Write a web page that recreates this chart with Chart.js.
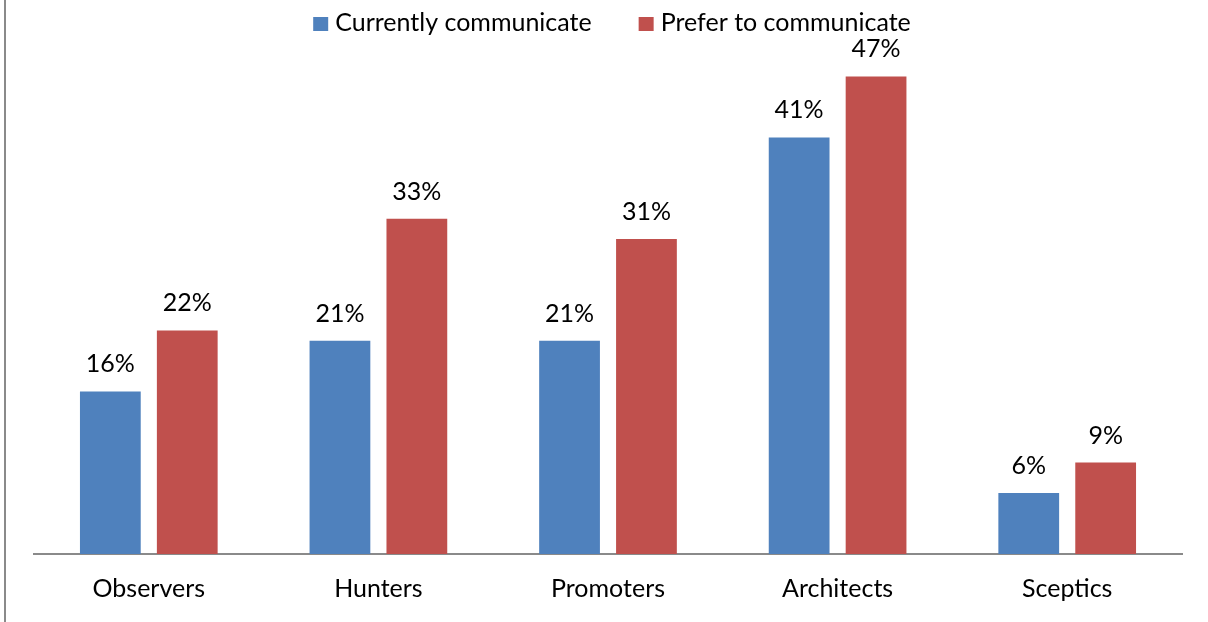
<!DOCTYPE html>
<html>
<head>
<meta charset="utf-8">
<title>Communication by segment</title>
<script src="https://cdn.jsdelivr.net/npm/chart.js@4/dist/chart.umd.min.js"></script>
<style>
  html, body { margin: 0; padding: 0; background: #ffffff; }
  #wrap { width: 1208px; height: 622px; position: relative; }
</style>
</head>
<body>
<div id="wrap"><canvas id="chart" width="1208" height="622"></canvas></div>
<script>
// Segments along the x axis
const categories = ['Observers', 'Hunters', 'Promoters', 'Architects', 'Sceptics'];
// Share of each segment, in percent
const currentlyCommunicate = [16, 21, 21, 41, 6];
const preferToCommunicate = [22, 33, 31, 47, 9];
const seriesNames = ['Currently communicate', 'Prefer to communicate'];

const FONT = 'Lato, "Open Sans", "Liberation Sans", sans-serif';
const FONT_SIZE = 25;
const BLUE = '#4F81BD';
const RED = '#C0504D';

// White page with the thin gray frame line on the left edge
const framePlugin = {
  id: 'frame',
  beforeDraw(chart) {
    const ctx = chart.ctx;
    ctx.save();
    ctx.fillStyle = '#ffffff';
    ctx.fillRect(0, 0, chart.width, chart.height);
    ctx.fillStyle = '#8a8a8a';
    ctx.fillRect(4, 0, 2, chart.height);
    ctx.restore();
  }
};

// Percentage labels above every bar
const valueLabels = {
  id: 'valueLabels',
  afterDatasetsDraw(chart) {
    const ctx = chart.ctx;
    ctx.save();
    ctx.font = FONT_SIZE + 'px ' + FONT;
    ctx.fillStyle = '#000000';
    ctx.textAlign = 'center';
    ctx.textBaseline = 'alphabetic';
    chart.data.datasets.forEach((ds, di) => {
      chart.getDatasetMeta(di).data.forEach((bar, i) => {
        ctx.fillText(ds.data[i] + '%', bar.x, bar.y - 19);
      });
    });
    ctx.restore();
  }
};

// Legend row above the plot: square swatch followed by the series name
const legendRow = {
  id: 'legendRow',
  afterDraw(chart) {
    const ctx = chart.ctx;
    const box = 15, gap = 7, spacing = 47;
    ctx.save();
    ctx.font = FONT_SIZE + 'px ' + FONT;
    ctx.textBaseline = 'alphabetic';
    ctx.textAlign = 'left';
    const items = chart.data.datasets.map(ds => ({
      text: ds.label, color: ds.backgroundColor, w: ctx.measureText(ds.label).width
    }));
    const total = items.reduce((s, it) => s + box + gap + it.w, 0) + spacing * (items.length - 1);
    const area = chart.chartArea;
    let x = (area.left + area.right) / 2 + 4 - total / 2;
    items.forEach(it => {
      ctx.fillStyle = it.color;
      ctx.fillRect(x, 17, box, 14);
      ctx.fillStyle = '#000000';
      ctx.fillText(it.text, x + box + gap, 31);
      x += box + gap + it.w + spacing;
    });
    ctx.restore();
  }
};

new Chart(document.getElementById('chart'), {
  type: 'bar',
  data: {
    labels: categories,
    datasets: [
      { label: seriesNames[0], data: currentlyCommunicate, backgroundColor: BLUE,
        categoryPercentage: 0.67, barPercentage: 0.79 },
      { label: seriesNames[1], data: preferToCommunicate, backgroundColor: RED,
        categoryPercentage: 0.67, barPercentage: 0.79 }
    ]
  },
  options: {
    responsive: false,
    animation: false,
    devicePixelRatio: 1,
    layout: { padding: { left: 34, right: 26, top: 46, bottom: 0 } },
    plugins: {
      legend: { display: false },
      tooltip: { enabled: false }
    },
    scales: {
      x: {
        grid: { display: false, drawTicks: false },
        border: { display: true, color: '#8a8a8a', width: 2 },
        ticks: { color: '#000000', padding: 20, font: { family: FONT, size: FONT_SIZE } },
        afterFit(scale) { scale.height = 68; }
      },
      y: {
        display: false,
        min: 0,
        max: 50
      }
    }
  },
  plugins: [framePlugin, valueLabels, legendRow]
});
</script>
</body>
</html>
